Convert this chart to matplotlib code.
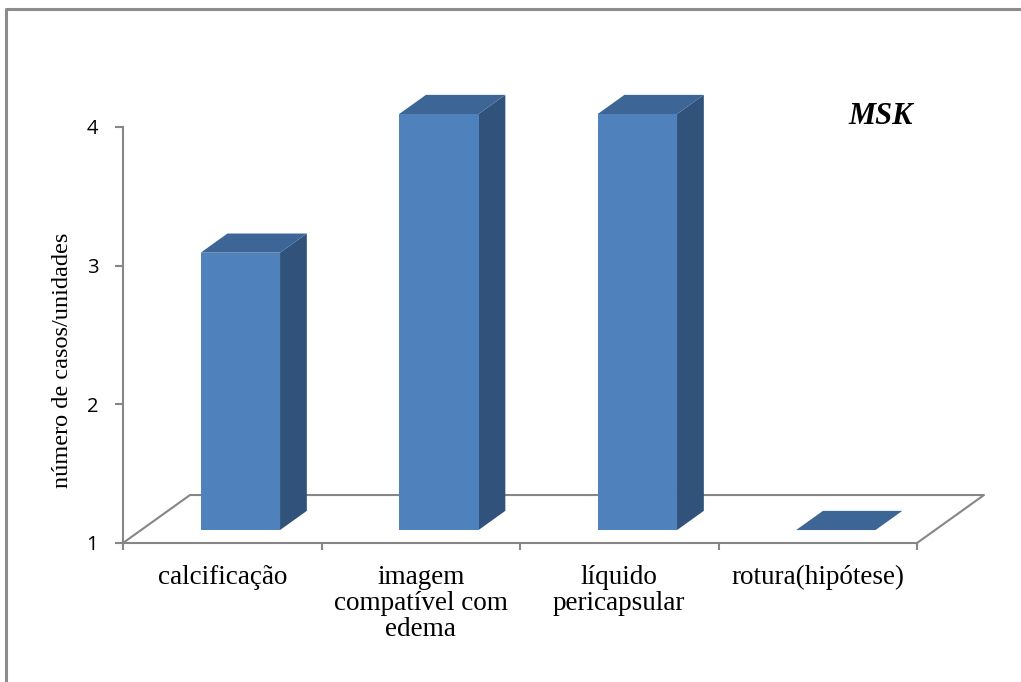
import matplotlib
matplotlib.use('Agg')
import matplotlib.pyplot as plt
from matplotlib.patches import Polygon
from matplotlib.lines import Line2D

# casos por achado ecográfico
categorias = ['calcificação', 'imagem\ncompatível com\nedema', 'líquido\npericapsular', 'rotura(hipótese)']
valores = [3, 4, 4, 1]
yticks = [1, 2, 3, 4]

FRONT = '#4F81BD'
TOP = '#3D6696'
SIDE = '#30527B'
AXIS = '#868686'

# geometria da vista 3D (em unidades de dados)
DX, DY = 0.3375, 0.346      # profundidade total do chão
D0, DD = 0.27, 0.40         # posição e espessura da barra em profundidade
W = 0.40                    # largura da barra

fig = plt.figure(figsize=(10.21, 6.82), dpi=100)
ax = fig.add_axes([123 / 1021, 139 / 682, 794 / 1021, 416 / 682])
ax.set_xlim(0, 4)
ax.set_ylim(1, 4)
ax.patch.set_visible(False)

for s in ['top', 'right']:
    ax.spines[s].set_visible(False)
for s in ['left', 'bottom']:
    ax.spines[s].set_color(AXIS)
    ax.spines[s].set_linewidth(1.5)

ax.set_yticks(yticks)
ax.set_yticklabels([str(t) for t in yticks], fontfamily='Open Sans', fontsize=14.5)
ax.tick_params(axis='y', length=5.8, width=1.5, color=AXIS, pad=12)

ax.set_xticks(range(5))
ax.set_xticklabels([])
ax.tick_params(axis='x', which='major', length=5, width=1.5, color=AXIS)
ax.set_xticks([i + 0.5 for i in range(4)], minor=True)
ax.set_xticklabels(categorias, minor=True, fontfamily='Liberation Serif', fontsize=19.5,
                   linespacing=1.05)
ax.tick_params(axis='x', which='minor', length=0, pad=16)

# chão
floor_kw = dict(color=AXIS, lw=1.5, clip_on=False, zorder=1)
ax.add_line(Line2D([0, DX, 4 + DX, 4], [1, 1 + DY, 1 + DY, 1], **floor_kw))

# barras
for i, v in enumerate(valores):
    x0 = i + 0.5 - W / 2 + D0 * DX
    yb = 1 + D0 * DY
    yt = v + D0 * DY
    ox, oy = DD * DX, DD * DY
    front = Polygon([(x0, yb), (x0 + W, yb), (x0 + W, yt), (x0, yt)],
                    closed=True, fc=FRONT, ec='none', clip_on=False, zorder=3)
    side = Polygon([(x0 + W, yb), (x0 + W + ox, yb + oy), (x0 + W + ox, yt + oy), (x0 + W, yt)],
                   closed=True, fc=SIDE, ec='none', clip_on=False, zorder=3)
    top = Polygon([(x0, yt), (x0 + W, yt), (x0 + W + ox, yt + oy), (x0 + ox, yt + oy)],
                  closed=True, fc=TOP, ec='none', clip_on=False, zorder=3)
    for p in (side, top, front):
        ax.add_patch(p)

fig.text(62 / 1021, 1 - 360 / 682, 'número de casos/unidades', rotation=90,
         ha='center', va='center', fontfamily='Liberation Serif', fontsize=17.5)
fig.text(848 / 1021, 1 - 117 / 682, 'MSK', ha='left', va='center',
         fontfamily='Liberation Serif', fontsize=22, fontweight='bold', fontstyle='italic')

# moldura
fig.add_artist(Line2D([6 / 1021, 6 / 1021, 1.0], [0.0, 1 - 9 / 682, 1 - 9 / 682],
                      transform=fig.transFigure, color='#8C8C8C', lw=2.2))

fig.savefig('out.png', dpi=100)
